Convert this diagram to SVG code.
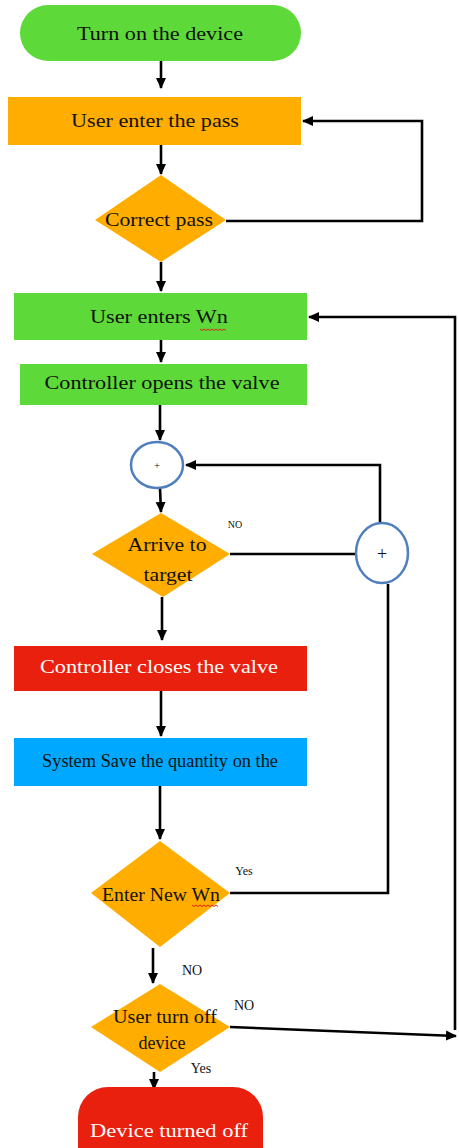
<svg xmlns="http://www.w3.org/2000/svg" width="459" height="1148" viewBox="0 0 459 1148">
<style>
.t{font-family:"Liberation Serif","Times New Roman",serif;font-size:19px;text-anchor:middle;fill:#111}
.w{fill:#fff}
.s{font-family:"Liberation Serif","Times New Roman",serif;text-anchor:middle;fill:#111}
.c{fill:none;stroke:#000;stroke-width:2.6}
.o{fill:#ffad00}
.g{fill:#5ed93a}
.r{fill:#ea200e}
.circ{fill:#fff;stroke:#4f7fbd;stroke-width:2.5}
</style>
<defs>
<marker id="ah" markerUnits="userSpaceOnUse" markerWidth="12" markerHeight="12" refX="10" refY="6" orient="auto">
<path d="M0,1 L11,6 L0,11 Z" fill="#000"/>
</marker>
</defs>
<g id="connectors">
<path class="c" d="M161,61 V88" marker-end="url(#ah)"/>
<path class="c" d="M161,145 V174" marker-end="url(#ah)"/>
<path class="c" d="M226,221 H422 V121 H303" marker-end="url(#ah)"/>
<path class="c" d="M161,262 V291" marker-end="url(#ah)"/>
<path class="c" d="M161,340 V362" marker-end="url(#ah)"/>
<path class="c" d="M160,405 V440" marker-end="url(#ah)"/>
<path class="c" d="M160,488 L161,512" marker-end="url(#ah)"/>
<path class="c" d="M230,554 H357"/>
<path class="c" d="M380,522 V465 H186" marker-end="url(#ah)"/>
<path class="c" d="M388,584 V893 H230"/>
<path class="c" d="M162,597 V640" marker-end="url(#ah)"/>
<path class="c" d="M161,691 V736" marker-end="url(#ah)"/>
<path class="c" d="M160,786 V839" marker-end="url(#ah)"/>
<path class="c" d="M153,948 V983" marker-end="url(#ah)"/>
<path class="c" d="M154,1072 V1089" marker-end="url(#ah)"/>
<path class="c" d="M230,1027 L456,1036" marker-end="url(#ah)"/>
<path class="c" d="M455,1030 V317 H309" marker-end="url(#ah)"/>
</g>
<g id="start">
<rect x="20" y="5" width="281" height="56" rx="28" class="g"/>
<text class="t" x="160" y="40" textLength="166" lengthAdjust="spacingAndGlyphs">Turn on the device</text>
</g>
<g id="enter-pass">
<rect x="8" y="97" width="293" height="48" class="o"/>
<text class="t" x="155" y="127" textLength="168" lengthAdjust="spacingAndGlyphs">User enter the pass</text>
</g>
<g id="correct-pass">
<polygon points="161,175 226,220 161,262 95,220" class="o"/>
<text class="t" x="159" y="226" textLength="108" lengthAdjust="spacingAndGlyphs">Correct pass</text>
</g>
<g id="enter-wn">
<rect x="14" y="293" width="293" height="47" class="g"/>
<text class="t" x="159" y="323" textLength="138" lengthAdjust="spacingAndGlyphs">User enters Wn</text>
<path d="M200,329 l2,1.5 l2,-1.5 l2,1.5 l2,-1.5 l2,1.5 l2,-1.5 l2,1.5 l2,-1.5 l2,1.5 l2,-1.5 l2,1.5 l2,-1.5 l2,1.5" fill="none" stroke="#e02020" stroke-width="1"/>
</g>
<g id="open-valve">
<rect x="20" y="364" width="287" height="41" class="g"/>
<text class="t" x="162" y="389" textLength="235" lengthAdjust="spacingAndGlyphs">Controller opens the valve</text>
</g>
<g id="join1">
<ellipse cx="157" cy="465" rx="26" ry="23" class="circ"/>
<text class="s" x="157" y="469" font-size="10" fill="#777">+</text>
</g>
<g id="arrive">
<polygon points="161,513 230,554 163,597 92,554" class="o"/>
<text class="t" x="167" y="551" textLength="79" lengthAdjust="spacingAndGlyphs">Arrive to</text>
<text class="t" x="168" y="581" textLength="49" lengthAdjust="spacingAndGlyphs">target</text>
<text class="s" x="235" y="528" font-size="10" fill="#555">NO</text>
</g>
<g id="join2">
<ellipse cx="382" cy="553" rx="26" ry="30" class="circ"/>
<text class="s" x="382" y="560" font-size="18" fill="#333">+</text>
</g>
<g id="close-valve">
<rect x="14" y="646" width="293" height="45" class="r"/>
<text class="t w" x="159" y="673" textLength="238" lengthAdjust="spacingAndGlyphs">Controller closes the valve</text>
</g>
<g id="save">
<rect x="14" y="738" width="293" height="48" fill="#00a9ff"/>
<text class="t" x="160" y="767" textLength="236" lengthAdjust="spacingAndGlyphs">System Save the quantity on the</text>
</g>
<g id="new-wn">
<polygon points="160,841 230,893 160,947 91,893" class="o"/>
<text class="t" x="161" y="901" textLength="118" lengthAdjust="spacingAndGlyphs">Enter New Wn</text>
<path d="M192,905 l2,1.5 l2,-1.5 l2,1.5 l2,-1.5 l2,1.5 l2,-1.5 l2,1.5 l2,-1.5 l2,1.5 l2,-1.5 l2,1.5 l2,-1.5 l2,1.5" fill="none" stroke="#e02020" stroke-width="1"/>
<text class="s" x="244" y="875" font-size="12" fill="#555">Yes</text>
<text class="s" x="192" y="975" font-size="14">NO</text>
</g>
<g id="turn-off">
<polygon points="160,984 230,1027 160,1072 91,1027" class="o"/>
<text class="t" x="165" y="1023" textLength="104" lengthAdjust="spacingAndGlyphs">User turn off</text>
<text class="t" x="162" y="1049" textLength="47" lengthAdjust="spacingAndGlyphs">device</text>
<text class="s" x="244" y="1010" font-size="14">NO</text>
<text class="s" x="201" y="1073" font-size="14">Yes</text>
</g>
<g id="end">
<rect x="78" y="1087" width="185" height="90" rx="30" class="r"/>
<text class="t w" x="169" y="1137" textLength="158" lengthAdjust="spacingAndGlyphs">Device turned off</text>
</g>
</svg>
